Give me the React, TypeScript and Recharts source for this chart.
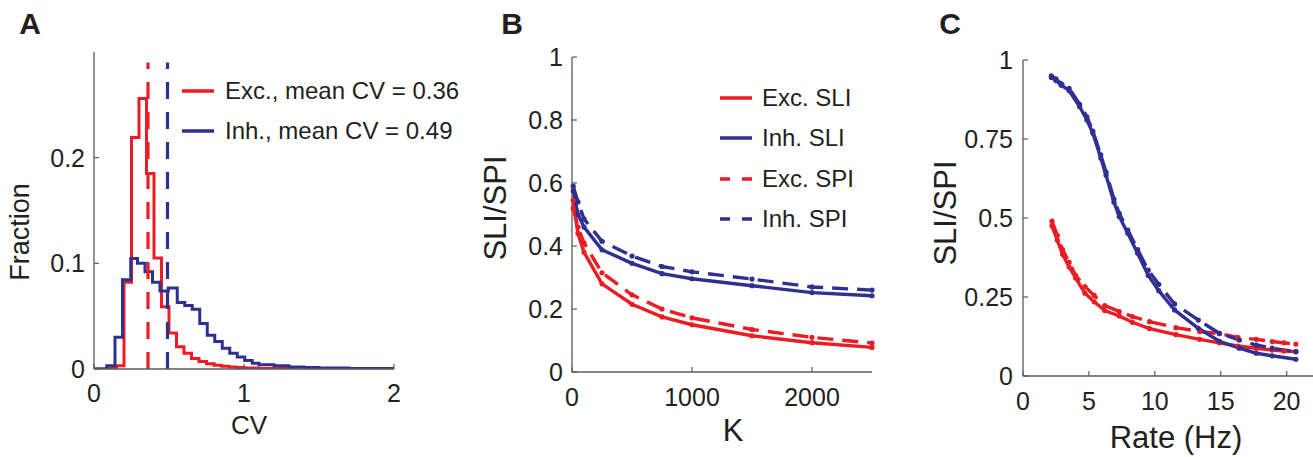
import { Legend, Line, LineChart, ReferenceLine, XAxis, YAxis } from 'recharts';

const RED = '#ec1c24';
const BLUE = '#2e3192';
const INK = '#231f20';
const AXIS = '#5a5a5c';
const FONT = '"Liberation Sans", Arial, Helvetica, sans-serif';

// --- A: CV histograms (stairs: each value holds until the next edge)
const EXC_CV = [0, 0.1, 0.15, 0.2, 0.25, 0.3, 0.35, 0.4, 0.45, 0.5, 0.55, 0.6, 0.65, 0.7, 0.75, 0.8, 0.85, 0.9, 0.95, 1.0, 1.1, 1.3, 2.0];
const EXC_FRAC = [0, 0.001, 0.003, 0.082, 0.219, 0.256, 0.185, 0.105, 0.059, 0.034, 0.021, 0.015, 0.01, 0.007, 0.005, 0.0035, 0.0025, 0.002, 0.0015, 0.001, 0.0005, 0.0003, 0.0003];
const INH_CV = [0, 0.085, 0.14, 0.19, 0.245, 0.29, 0.34, 0.39, 0.44, 0.495, 0.555, 0.605, 0.655, 0.705, 0.755, 0.805, 0.855, 0.905, 0.955, 1.005, 1.055, 1.1, 1.2, 1.3, 1.4, 1.5, 1.7, 2.0];
const INH_FRAC = [0, 0.003, 0.03, 0.0845, 0.1045, 0.1, 0.092, 0.082, 0.0737, 0.0766, 0.063, 0.06, 0.0566, 0.043, 0.032, 0.026, 0.0197, 0.015, 0.0114, 0.008, 0.0055, 0.004, 0.003, 0.002, 0.0015, 0.001, 0.0005, 0.0005];
const EXC_MEAN_CV = 0.36;
const INH_MEAN_CV = 0.49;
const MEAN_LINE_TOP = 0.29;
const CV_TICKS = [0, 1, 2];
const FRACTION_TICKS = [0, 0.1, 0.2];

// --- B: index vs in-degree K
const K_VALUES = [10, 50, 100, 250, 500, 750, 1000, 1500, 2000, 2500];
const EXC_SLI_K = [0.545, 0.44, 0.38, 0.28, 0.215, 0.175, 0.15, 0.115, 0.093, 0.078];
const INH_SLI_K = [0.575, 0.5, 0.46, 0.388, 0.345, 0.312, 0.296, 0.274, 0.252, 0.242];
const EXC_SPI_K = [0.52, 0.46, 0.41, 0.315, 0.245, 0.2, 0.172, 0.135, 0.11, 0.092];
const INH_SPI_K = [0.59, 0.54, 0.486, 0.415, 0.368, 0.335, 0.318, 0.295, 0.27, 0.26];
const K_TICKS = [0, 1000, 2000];
const B_TICKS = [0, 0.2, 0.4, 0.6, 0.8, 1];
const B_LEGEND_ORDER = ['Exc. SLI', 'Inh. SLI', 'Exc. SPI', 'Inh. SPI'];

// --- C: index vs firing rate
const EXC_RATE = [2.2, 2.6, 3.0, 3.5, 4.0, 4.7, 5.4, 6.2, 7.3, 8.3, 9.6, 11.6, 13.4, 14.9, 16.3, 17.7, 18.9, 19.8, 20.7];
const EXC_SLI_RATE = [0.475, 0.43, 0.385, 0.345, 0.31, 0.262, 0.235, 0.207, 0.19, 0.17, 0.15, 0.131, 0.116, 0.105, 0.095, 0.088, 0.082, 0.079, 0.077];
const EXC_SPI_RATE = [0.49, 0.445, 0.4, 0.36, 0.318, 0.283, 0.255, 0.223, 0.204, 0.188, 0.172, 0.153, 0.141, 0.134, 0.122, 0.116, 0.109, 0.105, 0.101];
const INH_RATE = [2.15, 2.5, 2.9, 3.5, 4.3, 4.85, 5.3, 5.9, 6.3, 6.9, 7.3, 7.95, 8.7, 9.5, 10.3, 11.5, 13.3, 14.9, 16.4, 17.7, 18.9, 20.7];
const INH_SLI_RATE = [0.945, 0.935, 0.92, 0.903, 0.852, 0.81, 0.768, 0.69, 0.635, 0.55, 0.505, 0.452, 0.388, 0.318, 0.27, 0.209, 0.151, 0.11, 0.088, 0.072, 0.064, 0.053];
const INH_SPI_RATE = [0.95, 0.94, 0.925, 0.91, 0.86, 0.82, 0.775, 0.7, 0.645, 0.56, 0.515, 0.462, 0.4, 0.335, 0.29, 0.228, 0.177, 0.135, 0.114, 0.098, 0.088, 0.077];
const RATE_TICKS = [0, 5, 10, 15, 20];
const C_TICKS = [0, 0.25, 0.5, 0.75, 1];

const excHist = EXC_CV.map((cv, i) => ({ cv, frac: EXC_FRAC[i] }));
const inhHist = INH_CV.map((cv, i) => ({ cv, frac: INH_FRAC[i] }));
const kData = K_VALUES.map((k, i) => ({
  k,
  excSli: EXC_SLI_K[i],
  inhSli: INH_SLI_K[i],
  excSpi: EXC_SPI_K[i],
  inhSpi: INH_SPI_K[i],
}));
const excRate = EXC_RATE.map((rate, i) => ({ rate, sli: EXC_SLI_RATE[i], spi: EXC_SPI_RATE[i] }));
const inhRate = INH_RATE.map((rate, i) => ({ rate, sli: INH_SLI_RATE[i], spi: INH_SPI_RATE[i] }));

const tick = { fill: INK, fontSize: 25, fontFamily: FONT };
const axisProps = {
  axisLine: { stroke: AXIS, strokeWidth: 1.3 },
  tickLine: { stroke: AXIS, strokeWidth: 1.2 },
  tickSize: -5,
  tick,
};

function Title({ x, y, size, bold, vertical, children }: any) {
  return (
    <div
      style={{
        position: 'absolute',
        left: x,
        top: y,
        transform: `translate(-50%, -50%)${vertical ? ' rotate(-90deg)' : ''}`,
        fontSize: size,
        fontWeight: bold ? 700 : 400,
        lineHeight: 1,
        whiteSpace: 'nowrap',
        color: INK,
        fontFamily: FONT,
      }}
    >
      {children}
    </div>
  );
}

const legendContent = (rowHeight: number, textGap: number, order?: string[]) => (props: any) => {
  const items = [...(props.payload ?? [])];
  if (order) items.sort((a, b) => order.indexOf(a.value) - order.indexOf(b.value));
  return (
    <div style={{ fontFamily: FONT, fontSize: 24, color: INK }}>
      {items.map((entry: any) => (
        <div key={entry.value} style={{ display: 'flex', alignItems: 'center', height: rowHeight }}>
          <svg width={32} height={6} style={{ display: 'block' }}>
            <line
              x1={0}
              y1={3}
              x2={32}
              y2={3}
              stroke={entry.color}
              strokeWidth={3.5}
              strokeDasharray={entry.payload?.strokeDasharray ? '10 12' : undefined}
            />
          </svg>
          <span style={{ marginLeft: textGap, lineHeight: 1, whiteSpace: 'nowrap' }}>{entry.value}</span>
        </div>
      ))}
    </div>
  );
};

const dot = (color: string) => ({ r: 2.6, fill: color, stroke: 'none' });
const W = 3.4;

export default function App() {
  return (
    <div
      style={{
        position: 'absolute',
        left: 0,
        top: 0,
        width: 1313,
        height: 457,
        overflow: 'hidden',
        background: '#fff',
        fontFamily: FONT,
      }}
    >
      {/* A */}
      <div style={{ position: 'absolute', left: 0, top: 0 }}>
        <LineChart width={440} height={457} margin={{ top: 52, right: 46, bottom: 0, left: 0 }}>
          <XAxis
            type="number"
            dataKey="cv"
            domain={[0, 2]}
            ticks={CV_TICKS}
            height={88}
            tickMargin={20}
            allowDataOverflow
            {...axisProps}
          />
          <YAxis
            type="number"
            domain={[0, 0.3]}
            ticks={FRACTION_TICKS}
            width={94}
            tickMargin={14}
            allowDataOverflow
            {...axisProps}
          />
          <Line
            data={excHist}
            dataKey="frac"
            name="Exc., mean CV = 0.36"
            type="stepAfter"
            stroke={RED}
            strokeWidth={3}
            dot={false}
            activeDot={false}
            isAnimationActive={false}
          />
          <Line
            data={inhHist}
            dataKey="frac"
            name="Inh., mean CV = 0.49"
            type="stepAfter"
            stroke={BLUE}
            strokeWidth={3}
            dot={false}
            activeDot={false}
            isAnimationActive={false}
          />
          <ReferenceLine
            segment={[{ x: EXC_MEAN_CV, y: 0 }, { x: EXC_MEAN_CV, y: MEAN_LINE_TOP }]}
            stroke={RED}
            strokeWidth={3.2}
            strokeDasharray="17 13"
          />
          <ReferenceLine
            segment={[{ x: INH_MEAN_CV, y: 0 }, { x: INH_MEAN_CV, y: MEAN_LINE_TOP }]}
            stroke={BLUE}
            strokeWidth={3.2}
            strokeDasharray="17 13"
          />
          <Legend
            layout="horizontal"
            verticalAlign="middle"
            align="center"
            content={legendContent(40, 11)}
            wrapperStyle={{ left: 182, top: 71, width: 'auto', height: 'auto' }}
          />
        </LineChart>
      </div>

      {/* B */}
      <div style={{ position: 'absolute', left: 440, top: 0 }}>
        <LineChart width={440} height={457} data={kData} margin={{ top: 57, right: 8, bottom: 0, left: 0 }}>
          <XAxis
            type="number"
            dataKey="k"
            domain={[0, 2500]}
            ticks={K_TICKS}
            height={85}
            tickMargin={21}
            {...axisProps}
          />
          <YAxis type="number" domain={[0, 1]} ticks={B_TICKS} width={132} tickMargin={14} {...axisProps} />
          <Line dataKey="excSli" name="Exc. SLI" stroke={RED} strokeWidth={W} dot={dot(RED)} activeDot={false} isAnimationActive={false} />
          <Line dataKey="inhSli" name="Inh. SLI" stroke={BLUE} strokeWidth={W} dot={dot(BLUE)} activeDot={false} isAnimationActive={false} />
          <Line
            dataKey="excSpi"
            name="Exc. SPI"
            stroke={RED}
            strokeWidth={W}
            strokeDasharray="16 9"
            dot={dot(RED)}
            activeDot={false}
            isAnimationActive={false}
          />
          <Line
            dataKey="inhSpi"
            name="Inh. SPI"
            stroke={BLUE}
            strokeWidth={W}
            strokeDasharray="16 9"
            dot={dot(BLUE)}
            activeDot={false}
            isAnimationActive={false}
          />
          <Legend
            layout="horizontal"
            verticalAlign="middle"
            align="center"
            content={legendContent(40.3, 10, B_LEGEND_ORDER)}
            wrapperStyle={{ left: 280, top: 78, width: 'auto', height: 'auto' }}
          />
        </LineChart>
      </div>

      {/* C */}
      <div style={{ position: 'absolute', left: 880, top: 0 }}>
        <LineChart width={433} height={457} margin={{ top: 60, right: 0, bottom: 0, left: 0 }}>
          <XAxis
            type="number"
            dataKey="rate"
            domain={[0, 22]}
            ticks={RATE_TICKS}
            height={81}
            tickMargin={21}
            allowDataOverflow
            {...axisProps}
          />
          <YAxis type="number" domain={[0, 1]} ticks={C_TICKS} width={143} tickMargin={15} {...axisProps} />
          <Line data={excRate} dataKey="sli" stroke={RED} strokeWidth={W} dot={dot(RED)} activeDot={false} isAnimationActive={false} />
          <Line
            data={excRate}
            dataKey="spi"
            stroke={RED}
            strokeWidth={W}
            strokeDasharray="16 9"
            dot={dot(RED)}
            activeDot={false}
            isAnimationActive={false}
          />
          <Line data={inhRate} dataKey="sli" stroke={BLUE} strokeWidth={W} dot={dot(BLUE)} activeDot={false} isAnimationActive={false} />
          <Line
            data={inhRate}
            dataKey="spi"
            stroke={BLUE}
            strokeWidth={W}
            strokeDasharray="16 9"
            dot={dot(BLUE)}
            activeDot={false}
            isAnimationActive={false}
          />
        </LineChart>
      </div>

      <Title x={30} y={24} size={30} bold>A</Title>
      <Title x={512} y={24} size={30} bold>B</Title>
      <Title x={950} y={24} size={30} bold>C</Title>

      <Title x={20} y={232} size={27} vertical>Fraction</Title>
      <Title x={249} y={425} size={26}>CV</Title>

      <Title x={495} y={208} size={31} vertical>SLI/SPI</Title>
      <Title x={733} y={430} size={31}>K</Title>

      <Title x={945} y={213} size={31} vertical>SLI/SPI</Title>
      <Title x={1176} y={437} size={31}>Rate (Hz)</Title>
    </div>
  );
}
